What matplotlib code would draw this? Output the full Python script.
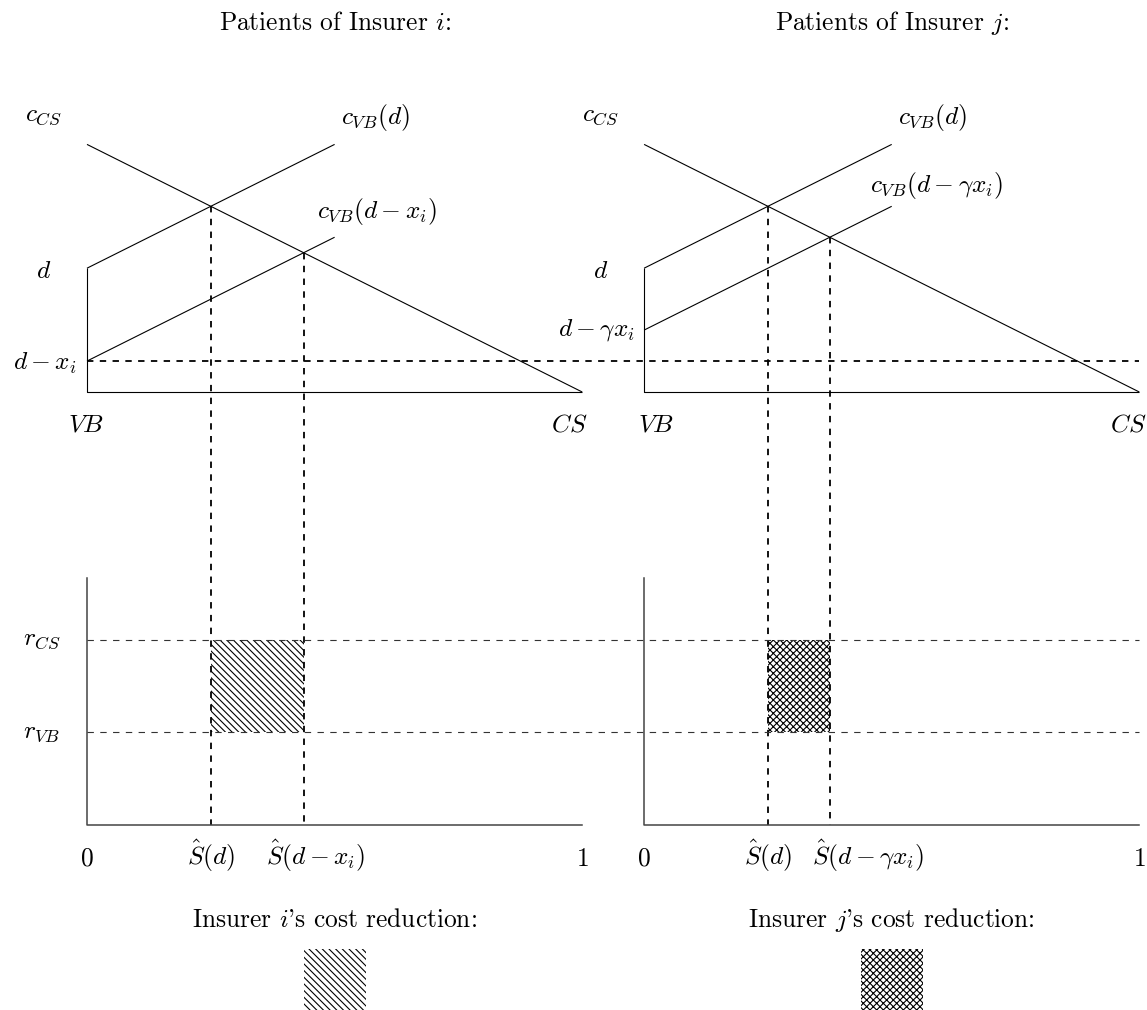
import matplotlib
matplotlib.use("Agg")
import matplotlib.pyplot as plt
from matplotlib.patches import Rectangle

plt.rcParams['mathtext.fontset'] = 'cm'
plt.rcParams['font.family'] = ['cmr10', 'DejaVu Serif']
plt.rcParams['axes.unicode_minus'] = False
plt.rcParams['lines.scale_dashes'] = False
plt.rcParams['hatch.linewidth'] = 0.8

# ---- diagram data (diagram units) ----
panel_offsets = [0, 9]            # x origin of insurer i and insurer j panels
panel_width = 8                   # VB (0) to CS (8)
c_cs_line = [4, 0]                # c_CS from VB to CS
c_vb_x = [0, 4]                   # x-extent of c_VB lines
c_vb_d = [2, 4]                   # c_VB(d)
c_vb_shift_i = [0.5, 2.5]         # c_VB(d - x_i)
c_vb_shift_j = [1, 3]             # c_VB(d - gamma x_i)
d_level = 2
dx_level = 0.5                    # d - x_i
s_hat_d = 2                       # S^(d)
cut_d = 3                         # c_CS = c_VB(d) level
s_hat_shift = [3.5, 3]            # S^(d - x_i), S^(d - gamma x_i)
cut_levels = [2.25, 2.5]          # y of intersections of shifted c_VB with c_CS
bottom_base = -7
bottom_top = -3
r_cs = -4
r_vb = -5.5
dash_right_end = 17
hatches = ['\\\\\\\\\\', 'xxxxx']

titles = [r"Patients of Insurer $i$:", r"Patients of Insurer $j$:"]
cvb_shift_labels = [r"$c_{VB}(d-x_i)$", r"$c_{VB}(d-\gamma x_i)$"]
shat_labels = [r"$\hat{S}(d-x_i)$", r"$\hat{S}(d-\gamma x_i)$"]
cost_labels = [r"Insurer $i$'s cost reduction:", r"Insurer $j$'s cost reduction:"]

# ---- figure ----
U = 61.9
fig = plt.figure(figsize=(11.47, 10.10), dpi=100)
ax = fig.add_axes([0, 0, 1, 1])
ax.set_xlim(-87 / U, (1147 - 87) / U)
ax.set_ylim(-(1010 - 392) / U, 392 / U)
ax.axis('off')

FS = 18.3
thin = dict(color='black', lw=0.8, solid_capstyle='butt')
thickdash = dict(color='black', lw=1.3, linestyle=(0, (4.6, 4.6)))
thindash = dict(color='#333333', lw=0.8, linestyle=(0, (4.6, 4.6)))
axis_style = dict(color='#444444', lw=1.1)

shift_lines = [c_vb_shift_i, c_vb_shift_j]

for k, ox in enumerate(panel_offsets):
    # top panel
    ax.plot([ox + c_vb_x[0], ox + c_vb_x[1]], c_vb_d, **thin)
    ax.plot([ox, ox, ox + panel_width], [d_level, 0, 0], **thin)
    ax.plot([ox, ox + panel_width], c_cs_line, **thin)
    ax.plot([ox + c_vb_x[0], ox + c_vb_x[1]], shift_lines[k], **thin)

    # vertical dashed guides
    ax.plot([ox + s_hat_d, ox + s_hat_d], [cut_d, bottom_base], **thickdash)
    ax.plot([ox + s_hat_shift[k], ox + s_hat_shift[k]], [cut_levels[k], bottom_base], **thickdash)

    # bottom panel axes
    ax.plot([ox, ox, ox + panel_width], [bottom_top, bottom_base, bottom_base], **axis_style)

    # hatched area
    ax.add_patch(Rectangle((ox + s_hat_d, r_vb), s_hat_shift[k] - s_hat_d, r_cs - r_vb,
                           facecolor='none', edgecolor='black', lw=0, hatch=hatches[k]))
    # legend square
    ax.add_patch(Rectangle((ox + 3.5, -10), 1, 1,
                           facecolor='none', edgecolor='black', lw=0, hatch=hatches[k]))

    # texts
    ax.text(ox + 4, 5.96, titles[k], fontsize=FS, ha='center', va='center')
    ax.text(ox - 0.70, 4.47, r"$c_{CS}$", fontsize=FS, ha='center', va='center')
    ax.text(ox + 4.66, 4.44, r"$c_{VB}(d)$", fontsize=FS, ha='center', va='center')
    ax.text(ox - 0.70, 1.95, r"$d$", fontsize=FS, ha='center', va='center')
    ax.text(ox + [-0.01, 0.19][k], -0.53, r"$VB$", fontsize=FS, ha='center', va='center')
    ax.text(ox + [7.79, 7.82][k], -0.53, r"$CS$", fontsize=FS, ha='center', va='center')
    ax.text(ox, -7.54, r"$0$", fontsize=FS, ha='center', va='center')
    ax.text(ox + 8, -7.54, r"$1$", fontsize=FS, ha='center', va='center')
    ax.text(ox + 2.0, -7.5, r"$\hat{S}(d)$", fontsize=FS, ha='center', va='center')
    ax.text(ox + [3.7, 3.62][k], -7.5, shat_labels[k], fontsize=FS, ha='center', va='center')
    ax.text(ox + 4, -8.53, cost_labels[k], fontsize=FS, ha='center', va='center')

ax.text(4.68, 2.92, cvb_shift_labels[0], fontsize=FS, ha='center', va='center')
ax.text(13.72, 3.33, cvb_shift_labels[1], fontsize=FS, ha='center', va='center')
ax.text(-0.16, 0.47, r"$d-x_i$", fontsize=FS, ha='right', va='center')
ax.text(8.85, 1.0, r"$d-\gamma x_i$", fontsize=FS, ha='right', va='center')

# long dashed line at d - x_i
ax.plot([0, dash_right_end], [dx_level, dx_level], **thickdash)

# r levels
ax.plot([0, dash_right_end], [r_cs, r_cs], **thindash)
ax.plot([0, dash_right_end], [r_vb, r_vb], **thindash)
ax.text(-0.73, r_cs, r"$r_{CS}$", fontsize=FS, ha='center', va='center')
ax.text(-0.73, r_vb, r"$r_{VB}$", fontsize=FS, ha='center', va='center')

fig.savefig("out.png", dpi=100)
